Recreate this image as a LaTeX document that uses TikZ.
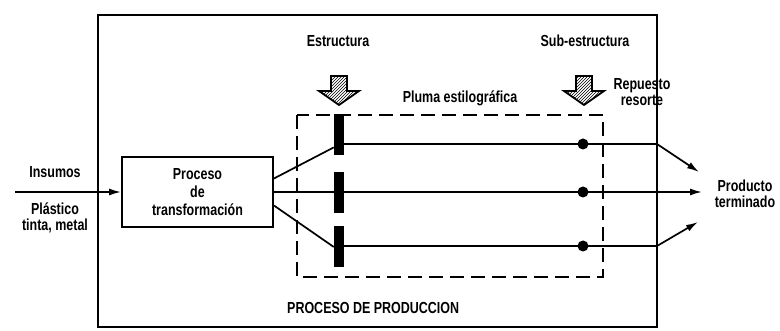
\documentclass[tikz,border=0pt]{standalone}
\usepackage{fontspec}
\setmainfont{Liberation Sans}[FakeStretch=0.78]
\usepackage{tikz}
\usetikzlibrary{arrows.meta}
\usetikzlibrary{patterns}

\tikzset{
	lbl/.style={font=\bfseries\fontsize{16}{16}\selectfont, align=center, inner sep=0pt},
	bar/.style={fill=black, minimum width=10pt, minimum height=41pt, inner sep=0pt},
	dot/.style={circle, fill=black, minimum size=11pt, inner sep=0pt},
	flow/.style={line width=1.7pt},
	tip/.style={-{Latex[length=12pt,width=7pt]}},
	hatcharrow/.style={draw, line width=1.8pt, pattern=north east lines}
}

\begin{document}
\begin{tikzpicture}[x=1pt, y=-1pt]
	\useasboundingbox (0,0) rectangle (780,331);
	% Frames
	\draw[line width=2pt] (98,15) rectangle (657,327);
	\draw[line width=1.8pt, dash pattern=on 14pt off 7pt] (297,115) rectangle (603,277);
	
	% Nodes
	\node[draw, line width=1.8pt, minimum width=151pt, minimum height=70pt, lbl, font=\bfseries\fontsize{16}{18}\selectfont] (proc) at (197.5,192) {Proceso\\de\\transformación};
	\coordinate (in) at (15,192);
	\node[bar] (bar1) at (339,134.5) {};
	\node[bar] (bar2) at (339,192.5) {};
	\node[bar] (bar3) at (339,247) {};
	\coordinate (k1) at (657,144);
	\coordinate (k3) at (657,246);
	\coordinate (e1) at (699,172);
	\coordinate (e2) at (702,192);
	\coordinate (e3) at (698,222);
	
	% Edges
	\draw[flow, tip] (in) -- (proc.west);
	\draw[flow] (proc.10) -- (bar1.248);
	\draw[flow] (proc.-10) -- (bar3.west);
	\draw[flow, tip] (bar1.east |- k1) -- (k1) -- (e1);
	\draw[flow, tip] (proc.east) -- (e2);
	\draw[flow, tip] (bar3.east |- k3) -- (k3) -- (e3);
	\node[bar] at (bar1) {};
	\node[bar] at (bar2) {};
	\node[bar] at (bar3) {};
	\node[dot] (dot1) at (583,144) {};
	\node[dot] (dot2) at (583,192) {};
	\node[dot] (dot3) at (583,246) {};
	
	% Hatched arrows
	\foreach \x in {339,584}
		\draw[hatcharrow] (\x-8,76) -- (\x+8,76) -- (\x+8,91) -- (\x+20,91) -- (\x,105) -- (\x-20,91) -- (\x-8,91) -- cycle;
	
	% Labels
	\node[lbl] (insumos) at (55,172) {Insumos};
	\node[lbl] (mat) at (55,218) {Plástico\\tinta, metal};
	\node[lbl] (estr) at (338,41) {Estructura};
	\node[lbl] (subestr) at (585,41) {Sub-estructura};
	\node[lbl] (pluma) at (460,98) {Pluma estilográfica};
	\node[lbl] (repuesto) at (642,92) {Repuesto\\resorte};
	\node[lbl] (producto) at (745,194) {Producto\\terminado};
	\node[lbl, anchor=west] (proceso) at (287,308) {PROCESO DE PRODUCCION};
\end{tikzpicture}
\end{document}
